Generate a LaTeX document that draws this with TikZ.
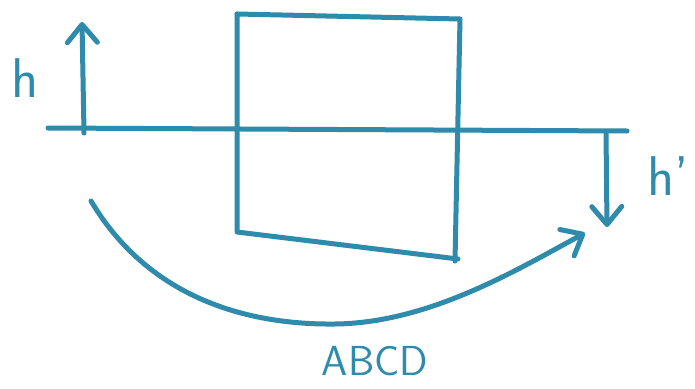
\documentclass[tikz,border=0pt]{standalone}
\usetikzlibrary{arrows.meta}
\definecolor{penblue}{RGB}{46,139,171}
\tikzset{
  pen/.style={draw=penblue, line width=5pt, line cap=round, line join=round},
  barb/.style={-{Straight Barb[length=18pt,width=30pt,round]}},
  hand/.style={text=penblue, font=\sffamily\fontsize{56}{56}\selectfont, inner sep=0pt},
}
\begin{document}
\begin{tikzpicture}[x=1pt,y=-1pt]
    \useasboundingbox (0,0) rectangle (695,388);
    % Square
    \coordinate (TL) at (237,14);
    \coordinate (TR) at (460,19);
    \coordinate (BR) at (455,261);
    \coordinate (BL) at (237,232);
    \draw[pen] (TL) -- (TR) -- (BR);
    \draw[pen] (TL) -- (BL) -- (458,259);

    % Level line
    \coordinate (L0) at (48,128);
    \coordinate (L1) at (627,131);
    \draw[pen] (L0) -- (L1);

    % Up arrow h
    \coordinate (U0) at (84,133);
    \coordinate (U1) at (82,22);
    \draw[pen, barb] (U0) -- (U1);
    \node[hand] (h) at (25,78) {h};

    % Down arrow h'
    \coordinate (D0) at (606,132);
    \coordinate (D1) at (607,227);
    \draw[pen, barb] (D0) -- (D1);
    \node[hand] (hp) at (668,176) {h'};

    % Swing from left to right
    \coordinate (S0) at (91,201);
    \coordinate (S1) at (335,324);
    \coordinate (S2) at (585,233);
    \draw[pen, barb] (S0) .. controls (150,300) and (250,325) .. (S1)
        .. controls (430,323) and (520,268) .. (S2);
    \node[hand, font=\sffamily\fontsize{42}{42}\selectfont] (abcd) at (375,361) {ABCD};
\end{tikzpicture}
\end{document}
